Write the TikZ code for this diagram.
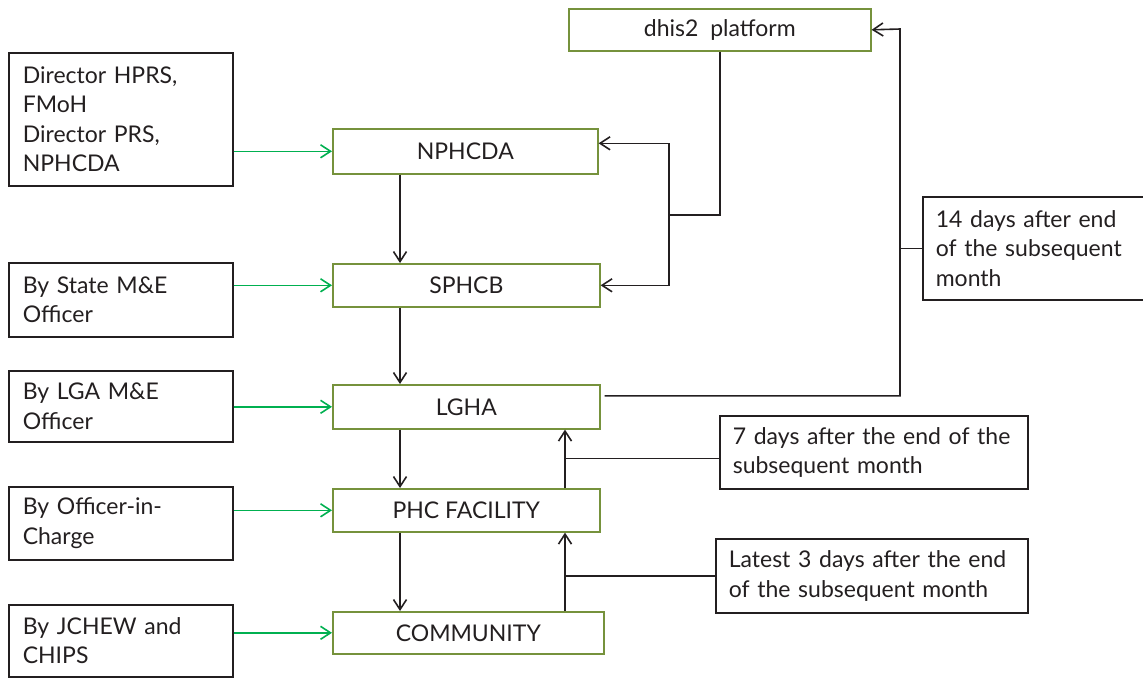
\documentclass[tikz,border=0pt]{standalone}
\usepackage{fontspec}
\setmainfont{Lato}
\usetikzlibrary{arrows.meta,positioning}
\definecolor{boxgreen}{RGB}{118,146,60}
\definecolor{feedgreen}{RGB}{0,176,80}
\definecolor{ink}{RGB}{35,31,32}

\tikzset{
  unit/.style={draw=boxgreen,line width=0.8pt,anchor=north west,inner sep=0pt,text=ink},
  src/.style={draw=ink,line width=0.8pt,anchor=north west,inner xsep=7pt,inner ysep=0pt,
    text width=98pt,align=left,text=ink},
  note/.style={draw=ink,line width=0.8pt,anchor=north west,inner xsep=6.5pt,inner ysep=0pt,
    align=left,text=ink},
  line/.style={draw=ink,line width=0.8pt},
  flow/.style={line,-{Straight Barb[length=5pt,width=6.5pt]}},
  feed/.style={draw=feedgreen,line width=0.8pt,-{Straight Barb[length=5pt,width=6.5pt]}}
}

\begin{document}
\begin{tikzpicture}[x=0.5pt,y=-0.5pt,font=\fontsize{11.5pt}{14.75pt}\selectfont]
    \useasboundingbox (0,0) rectangle (1143,677);

    % reporting levels
    \node[unit,minimum width=151pt,minimum height=21pt] (dhis) at (568,8) {dhis2~~platform};
    \node[unit,minimum width=132.5pt,minimum height=22.5pt] (nphcda) at (332,128) {NPHCDA};
    \node[unit,minimum width=133.5pt,minimum height=21.5pt] (sphcb) at (332,263) {SPHCB};
    \node[unit,minimum width=133.5pt,minimum height=22pt] (lgha) at (332,384) {LGHA};
    \node[unit,minimum width=133.5pt,minimum height=21.5pt] (phc) at (332,488) {PHC FACILITY};
    \node[unit,minimum width=135.5pt,minimum height=21pt] (community) at (332,611) {COMMUNITY};

    % who reports
    \node[src,minimum height=66.5pt] (director) at (8,52)
      {Director HPRS,\\FMoH\\Director PRS,\\NPHCDA};
    \node[src,minimum height=37pt] (state) at (8,262) {By State M\&E\\Officer};
    \node[src,minimum height=35.5pt] (lga) at (8,370) {By LGA M\&E\\Officer};
    \node[src,minimum height=36.5pt] (officer) at (8,486) {By Officer-in-\\Charge};
    \node[src,minimum height=36pt] (jchew) at (8,604) {By JCHEW and\\CHIPS};

    % deadlines
    \node[note,text width=97.5pt,minimum height=51.5pt] (days14) at (922,196)
      {14 days after end\\of the subsequent\\month};
    \node[note,text width=141pt,minimum height=36.5pt] (days7) at (719,415)
      {7 days after the end of the\\subsequent month};
    \node[note,text width=143pt,minimum height=37pt] (days3) at (715,538)
      {Latest 3 days after the end\\of the subsequent month};

    \coordinate (split) at (669,215);
    \coordinate (rail) at (900,29);

    \draw[feed] (director.east |- nphcda.west) -- (nphcda.west);
    \draw[feed] (state.east |- sphcb.west) -- (sphcb.west);
    \draw[feed] (lga.east |- lgha.west) -- (lgha.west);
    \draw[feed] (officer.east |- phc.west) -- (phc.west);
    \draw[feed] (jchew.east |- community.west) -- (community.west);

    \draw[flow] ([xshift=34pt]nphcda.south west) -- ([xshift=34pt]sphcb.north west);
    \draw[flow] ([xshift=34pt]sphcb.south west) -- ([xshift=34pt]lgha.north west);
    \draw[flow] ([xshift=34pt]lgha.south west) -- ([xshift=34pt]phc.north west);
    \draw[flow] ([xshift=34pt]phc.south west) -- ([xshift=34pt]community.north west);

    \coordinate (up1) at ([xshift=116.5pt]lgha.south west);
    \coordinate (up2) at ([xshift=116.5pt]phc.south west);
    \draw[flow] ([xshift=116.5pt]phc.north west) -- (up1);
    \draw[flow] ([xshift=116.5pt]community.north west) -- (up2);
    \draw[line] ([yshift=-3pt]days7.west) -- ([yshift=-3pt]days7.west -| up1);
    \draw[line] (days3.west) -- (days3.west -| up2);

    \draw[line] (dhis.south) |- (split);
    \draw[flow] (split) |- ([yshift=4pt]nphcda.east);
    \draw[flow] (split) |- (sphcb.east);

    \draw[flow] ([xshift=2pt,yshift=5.5pt]lgha.east) -| (rail) -- (dhis.east);
    \draw[line] (days14.west) -- (days14.west -| rail);
\end{tikzpicture}
\end{document}
